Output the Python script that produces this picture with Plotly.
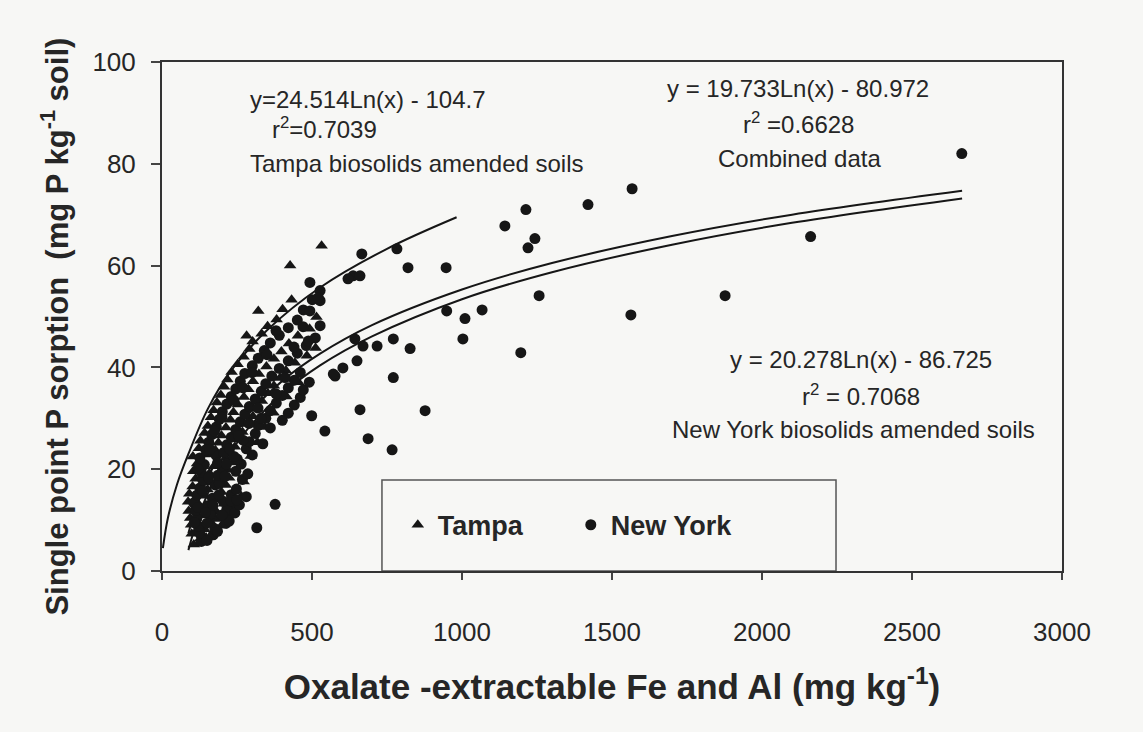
import plotly.graph_objects as go

# ---------------- data ----------------
# Tampa biosolids amended soils (triangles)
tampa_x = [106, 128, 99, 147, 118, 97, 142, 198, 163, 94, 137, 191, 226, 89, 131, 182, 241,
           87, 122, 177, 207, 91, 143, 198, 264, 102, 152, 213, 112, 163, 224, 272,
           104, 158, 219, 117, 173, 238, 103, 152, 212, 296, 123, 178, 243,
           128, 188, 253, 318, 142, 198, 268, 153, 213, 283, 342, 163, 228, 303,
           172, 238, 318, 372, 183, 253, 333, 196, 273, 353, 415, 207, 288, 373,
           218, 303, 393, 455, 232, 323, 413, 252, 348, 443, 272, 373, 483,
           291, 398, 512, 302, 423, 332, 453, 352, 492, 382, 515, 402, 432,
           427, 532, 321, 282]
tampa_y = [5.2, 6.4, 7.3, 6.6, 8.0, 9.1, 8.2, 8.9, 9.6, 10.4, 10.9, 10.2, 11.3, 11.8, 12.3, 11.6, 12.6,
           13.6, 13.1, 14.0, 13.2, 15.2, 14.8, 15.5, 14.7, 16.6, 16.0, 16.9, 18.1, 17.4, 18.3, 17.6,
           19.6, 19.2, 19.9, 21.1, 20.6, 21.3, 22.5, 22.9, 22.2, 22.6, 24.1, 23.7, 24.4,
           25.6, 25.2, 25.9, 25.3, 27.1, 26.6, 27.3, 28.5, 28.2, 28.9, 28.3, 30.2, 29.7, 30.4,
           31.6, 31.2, 31.9, 31.1, 33.1, 32.7, 33.4, 34.6, 34.2, 34.9, 34.3, 36.2, 35.7, 36.4,
           37.6, 37.3, 37.9, 37.1, 39.1, 38.7, 39.4, 40.6, 40.2, 40.9, 42.1, 41.7, 42.3,
           43.6, 43.1, 43.8, 45.1, 44.7, 46.6, 46.2, 48.1, 47.6, 49.4, 49.9, 51.4, 53.3,
           60.0, 63.9, 51.1, 46.2]

# New York biosolids amended soils (circles)
ny_x = [131, 126, 171, 121, 176, 214, 116, 166, 224, 111, 161, 216, 243, 106, 151, 204, 258,
        116, 168, 231, 281, 126, 177, 248, 197, 136, 191, 268, 131, 186, 246, 286,
        141, 201, 264, 126, 181, 251, 301, 146, 206, 281, 156, 216, 291, 336,
        166, 231, 311, 181, 246, 321, 361, 191, 261, 346, 401, 201, 276, 361, 421,
        216, 291, 381, 441, 231, 311, 401, 461, 246, 331, 421, 471, 261, 346, 441, 491,
        276, 366, 461, 301, 391, 321, 421, 341, 451, 361, 481, 391, 511, 421, 451, 471, 501,
        150, 185, 108, 150, 200, 120, 170, 230, 135, 190, 250, 155, 210, 120, 185, 240,
        160, 225, 270, 175, 255, 200, 290, 240, 320, 270, 380, 300, 410, 350, 440, 380,
        470, 330, 215, 145,
        2666, 2162, 1877, 1563, 1567, 1420, 1213, 1143, 1243, 1220, 1257, 1196,
        1067, 1010, 1003, 947, 949, 820, 783, 666, 637, 660, 620, 527, 527, 527,
        771, 827, 717, 670, 643, 650, 603, 577, 771, 660, 877, 543, 687, 767,
        499, 377, 316, 493, 521, 493, 488, 571]
ny_y = [5.8, 7.4, 7.1, 8.8, 8.3, 9.4, 10.3, 10.7, 9.8, 11.9, 11.2, 12.1, 11.4, 13.4, 12.8, 13.7, 13.0,
        14.9, 14.3, 15.0, 14.6, 16.3, 16.9, 16.1, 17.5, 17.9, 17.2, 18.0, 19.4, 18.8, 19.6, 19.1,
        20.9, 20.3, 21.0, 22.2, 22.7, 22.0, 22.8, 23.8, 23.3, 24.0, 25.3, 24.8, 25.4, 25.0,
        26.8, 26.3, 27.0, 28.3, 27.8, 28.6, 28.1, 29.8, 29.3, 30.0, 29.6, 31.3, 30.8, 31.5, 31.0,
        32.8, 32.3, 33.0, 32.6, 34.3, 33.8, 34.5, 34.1, 35.8, 35.3, 36.0, 35.6, 37.3, 36.8, 37.5, 37.1,
        38.8, 38.3, 39.0, 40.3, 39.8, 41.8, 41.3, 43.3, 42.8, 44.8, 44.3, 46.3, 45.8, 47.8, 49.3, 51.3, 53.3,
        6.0, 7.8, 9.5, 9.4, 11.0, 12.5, 12.9, 13.8, 15.8, 15.0, 14.0, 18.3, 18.6, 20.0, 21.2, 22.5,
        23.9, 24.0, 25.7, 27.5, 26.6, 30.2, 29.0, 33.5, 32.0, 36.0, 34.8, 39.0, 38.0, 42.5, 44.0, 47.2,
        48.0, 30.0, 21.0, 11.5,
        82.0, 65.7, 54.1, 50.3, 75.1, 72.0, 71.0, 67.8, 65.3, 63.5, 54.1, 42.9,
        51.3, 49.6, 45.6, 59.6, 51.1, 59.6, 63.3, 62.3, 58.0, 58.0, 57.4, 55.1, 53.1, 48.2,
        45.6, 43.7, 44.2, 44.2, 45.6, 41.3, 39.9, 38.3, 38.0, 31.7, 31.5, 27.5, 26.0, 23.8,
        30.5, 13.1, 8.5, 56.7, 53.7, 51.1, 45.2, 38.7]

# fitted curves as drawn
tampa_curve_x = [3, 20, 50, 88, 154, 232, 350, 527, 750, 982]
tampa_curve_y = [4.5, 10.5, 17.0, 23.0, 32.0, 39.5, 47.3, 55.7, 63.3, 69.5]
comb_curve_x = [88, 110, 140, 180, 230, 300, 400, 527, 700, 1000, 1300, 1700, 2100, 2667]
comb_curve_y = [7.4, 11.8, 16.5, 21.5, 26.3, 31.6, 37.3, 42.7, 48.3, 55.3, 60.5, 65.8, 70.0, 74.7]
ny_curve_x = [88, 110, 140, 180, 230, 300, 400, 527, 700, 1000, 1300, 1700, 2100, 2667]
ny_curve_y = [4.1, 8.6, 13.5, 18.6, 23.5, 28.9, 34.8, 40.4, 46.1, 53.4, 58.7, 64.1, 68.4, 73.2]

x_ticks = [0, 500, 1000, 1500, 2000, 2500, 3000]
y_ticks = [0, 20, 40, 60, 80, 100]

# ---------------- figure ----------------
INK = "#161616"
TXT = "#262626"
FONT = "Liberation Sans, Arial, sans-serif"

fig = go.Figure()
for cx, cy in [(tampa_curve_x, tampa_curve_y), (comb_curve_x, comb_curve_y), (ny_curve_x, ny_curve_y)]:
    fig.add_trace(go.Scatter(x=cx, y=cy, mode="lines", line=dict(color=INK, width=2, shape="spline"),
                             showlegend=False, hoverinfo="skip"))

fig.add_trace(go.Scatter(x=tampa_x, y=tampa_y, mode="markers", name="Tampa",
                         marker=dict(symbol="triangle-up", size=11, color=INK)))
fig.add_trace(go.Scatter(x=ny_x, y=ny_y, mode="markers", name="New York",
                         marker=dict(symbol="circle", size=11, color=INK)))

ann_font = dict(family=FONT, size=24, color=TXT)
anns = [
    ("y=24.514Ln(x) - 104.7", 287, 92.6, "left"),
    ("r<sup>2</sup>=0.7039", 360, 87.0, "left"),
    ("Tampa biosolids amended soils", 287, 80.0, "left"),
    ("y = 19.733Ln(x) - 80.972", 2120, 94.8, "center"),
    ("r<sup>2</sup> =0.6628", 2120, 88.0, "center"),
    ("Combined data", 2125, 81.0, "center"),
    ("y = 20.278Ln(x) - 86.725", 2330, 41.5, "center"),
    ("r<sup>2</sup> = 0.7068", 2330, 34.5, "center"),
    ("New York biosolids amended soils", 2305, 27.8, "center"),
]
for t, ax, ay, anc in anns:
    fig.add_annotation(x=ax, y=ay, xref="x", yref="y", text=t, showarrow=False,
                       xanchor=anc, yanchor="middle", font=ann_font)

# y-axis title (placed as rotated text, slightly below the plot middle as in the original)
fig.add_annotation(x=-0.119, y=0.48, xref="paper", yref="paper", textangle=-90,
                   text="Single point P sorption  (mg P kg<sup>-1</sup> soil)", showarrow=False,
                   xanchor="center", yanchor="middle",
                   font=dict(family=FONT, size=31, weight="bold", color=TXT))

# legend box
fig.add_shape(type="rect", xref="paper", yref="paper", x0=0.2444, x1=0.7489, y0=0.0, y1=0.1788,
              line=dict(color="#555", width=1.5), fillcolor="rgba(0,0,0,0)", layer="below")

fig.update_layout(
    width=1143, height=732,
    margin=dict(l=162, r=81, t=62, b=161),
    paper_bgcolor="#f7f7f5", plot_bgcolor="#f7f7f5",
    font=dict(family=FONT, color=TXT),
    showlegend=True,
    legend=dict(orientation="h", x=0.262, xanchor="left", y=0.09, yanchor="middle",
                bgcolor="rgba(0,0,0,0)", font=dict(size=27, weight="bold", color=TXT),
                entrywidth=128, entrywidthmode="pixels", itemsizing="trace"),
    xaxis=dict(range=[0, 3000], tickvals=x_ticks, ticks="outside", ticklen=7, tickwidth=1.5,
               tickcolor="#444", showline=True, linecolor="#333", linewidth=2, mirror=True,
               showgrid=False, zeroline=False, tickfont=dict(size=26, color=TXT),
               ticklabelstandoff=30,
               title=dict(text="Oxalate -extractable Fe and Al (mg kg<sup>-1</sup>)",
                          font=dict(size=35, weight="bold", color=TXT), standoff=28)),
    yaxis=dict(range=[0, 100], tickvals=y_ticks, ticks="outside", ticklen=9, tickwidth=1.5,
               tickcolor="#444", showline=True, linecolor="#333", linewidth=2, mirror=True,
               showgrid=False, zeroline=False, tickfont=dict(size=26, color=TXT),
               ticklabelstandoff=10),
)

fig.write_html("out.html")
